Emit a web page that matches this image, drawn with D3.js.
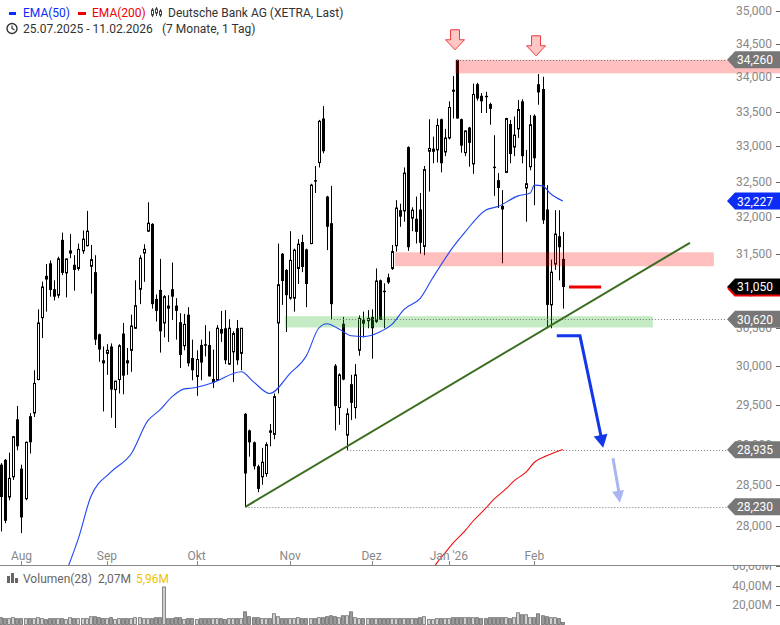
<!DOCTYPE html>
<html>
<head>
<meta charset="utf-8">
<script src="https://cdn.jsdelivr.net/npm/d3@7"></script>
<style>
  body { margin: 0; background: #fff; }
  svg { display: block; font-family: Roboto, "Liberation Sans", Arial, sans-serif; }
</style>
</head>
<body>
<div id="chart"></div>
<script>
// daily candles 25.07.2025 - 11.02.2026, index 0 = first trading day
var opens = [28.75,28.81,28.35,28.60,29.32,28.70,28.33,29.36,29.40,29.83,
30.64,31.20,31.37,31.02,30.94,31.69,31.24,31.51,31.35,31.30,
31.54,31.61,31.33,31.25,30.42,30.08,30.17,30.26,29.70,29.83,
30.43,30.08,30.21,30.50,31.02,31.51,31.81,31.91,30.89,31.01,
30.57,30.80,31.02,30.80,30.58,30.27,30.68,30.11,29.87,30.28,
30.29,30.28,29.80,29.82,30.49,30.50,30.03,30.19,30.50,30.17,
29.39,29.18,29.03,28.73,28.60,28.64,29.18,29.13,30.57,31.50,
31.28,30.90,30.90,31.30,31.66,31.56,31.64,32.52,32.77,33.40,
32.29,31.92,30.01,29.47,30.56,29.12,29.77,29.47,30.21,30.61,
30.60,30.65,30.59,31.14,31.00,31.18,31.30,31.61,32.10,32.09,
32.99,31.99,31.98,32.11,31.60,32.93,32.93,32.95,33.39,32.92,
33.12,33.82,34.26,33.39,32.91,33.27,32.75,33.90,33.73,33.73,
33.61,32.71,32.52,32.16,32.63,33.32,32.99,33.25,33.65,32.41,
32.71,33.44,33.90,33.83,32.11,30.81,31.36,31.74,31.43];
var highs = [28.77,28.82,28.90,29.11,29.49,28.75,29.04,29.40,29.95,30.75,
31.12,31.36,31.41,31.14,31.46,31.79,31.43,31.77,31.48,31.64,
31.82,32.09,31.62,31.48,30.43,30.26,30.29,30.30,29.81,30.29,
30.57,30.24,30.68,31.14,31.48,31.63,32.21,31.92,30.95,31.43,
30.94,30.94,31.38,30.90,30.70,30.69,30.78,30.35,30.21,30.35,
30.54,30.46,30.22,30.54,30.73,30.74,30.62,30.46,30.61,30.50,
29.40,29.19,29.04,28.75,28.96,29.03,29.26,29.65,31.64,31.51,
31.29,31.81,31.57,31.70,31.76,31.57,32.47,32.72,33.38,33.58,
32.30,32.44,30.03,29.91,30.65,29.46,29.89,30.03,30.67,30.72,
30.74,30.75,31.30,31.15,31.10,31.23,31.62,32.24,32.19,32.70,
33.00,32.14,32.29,32.34,32.72,33.39,33.14,33.40,33.40,33.25,
33.65,34.02,34.26,33.40,33.23,33.28,33.91,33.92,33.77,33.79,
33.63,33.16,32.62,32.38,33.41,33.38,33.43,33.67,33.68,32.95,
33.45,33.46,34.05,34.01,32.45,31.42,32.10,32.10,31.80];
var lows = [27.93,28.03,28.31,28.56,28.93,27.91,28.31,28.89,29.35,29.82,
30.37,30.72,30.92,30.87,30.90,31.21,30.91,31.44,31.00,31.27,
31.50,31.60,30.96,30.28,30.06,29.42,29.89,29.34,29.21,29.65,
29.64,29.89,29.93,30.49,30.82,31.12,31.80,30.76,30.59,30.18,
30.38,30.32,30.61,30.35,29.98,30.21,30.00,29.82,29.62,29.82,
30.13,29.87,29.72,29.82,30.32,30.03,30.02,29.80,30.02,29.95,
28.23,28.85,28.69,28.41,28.50,28.60,28.98,29.07,29.65,30.81,
30.45,30.88,30.72,31.09,31.25,30.78,31.63,32.34,32.70,32.90,
31.55,30.62,29.18,29.25,29.82,28.935,29.31,29.33,30.14,30.38,
30.50,30.10,30.57,30.61,30.50,31.09,31.28,31.53,31.87,31.94,
31.54,31.81,31.64,31.50,31.48,32.36,32.76,32.77,32.63,32.86,
33.10,33.40,33.40,32.91,32.86,32.71,32.61,33.66,33.48,33.48,
33.31,32.30,32.13,31.37,32.63,32.76,32.86,33.12,32.76,31.94,
32.66,32.17,33.60,31.91,30.50,30.50,31.28,31.14,30.76];
var closes = [28.35,28.06,28.58,29.10,28.98,28.10,29.03,29.03,29.78,30.57,
31.05,31.15,31.01,30.92,31.43,31.24,31.43,31.54,31.28,31.56,
31.70,31.81,31.42,30.35,30.22,30.04,30.21,29.70,29.81,30.27,
29.88,30.04,30.53,30.80,31.44,31.56,31.92,30.82,30.73,30.46,
30.92,30.76,30.92,30.73,30.15,30.55,30.04,29.95,30.09,30.05,
30.27,29.87,29.83,30.50,30.43,30.08,30.50,30.43,30.08,30.50,
28.64,29.03,28.73,28.45,28.78,29.00,29.15,29.61,31.08,31.13,
30.94,31.41,31.55,31.63,31.32,31.09,32.45,32.50,33.36,32.93,
31.87,30.82,29.49,29.89,29.83,29.39,29.53,29.89,30.63,30.56,
30.63,30.50,31.13,30.61,30.98,31.11,31.53,32.13,32.01,32.62,
31.59,32.10,31.80,31.65,32.67,32.97,32.96,33.30,32.76,33.12,
33.56,33.79,33.40,33.01,33.22,33.05,33.75,33.69,33.65,33.71,
33.54,32.69,32.41,32.11,33.40,32.89,33.16,33.53,32.86,32.47,
33.31,32.83,33.78,31.96,30.81,31.25,31.77,31.59,31.05];
// volume in millions
var volumes = [7,6,6,7,6, 6,6,6,6,7, 6,5,6,6,6, 6,5,7,6,6, 6,6,8,8,7, 6,6,7,5,6,
6,6,6,7,7, 6,6,6,7,7, 38.5,6,6,7,7, 5,6,6,5,6, 6,6,6,6,6, 5,6,6,6,6,
13,8,7,7,6, 6,6,11,8,6, 6,6,6,7,6, 6,6,6,7,7, 8,9,8,7,9, 9,13,7,6,6,
6,6,6,6,6, 6,6,6,6,6, 6,6,6,7,8, 5,5,6,6,6, 6,7,7,7,7, 7,7,7,6,6,
7,7,7,7,7, 6,7,12,10,10, 7,7,11,9,8, 7,7,6,2.07];

// moving averages (candle index, value)
var ema50Idx = [16,19,22,27,32,36,39,42,45,47,52,59,62,66,71,75,78,80,83,86,89,93,96,99,103,106,111,114,119,122,127,130,131,133,135,138];
var ema50Val = [27.45,27.85,28.35,28.66,28.89,29.30,29.44,29.61,29.71,29.72,29.79,29.93,29.80,29.65,29.91,30.14,30.50,30.56,30.49,30.40,30.39,30.45,30.55,30.75,30.90,31.17,31.59,31.80,32.10,32.15,32.30,32.34,32.45,32.44,32.33,32.227];
var ema200Idx = [105,107,109,111,114,116,119,121,124,126,129,131,134,138];
var ema200Val = [27.40,27.55,27.67,27.79,27.94,28.06,28.21,28.32,28.45,28.55,28.66,28.78,28.86,28.94];

var monthIdx = [5, 26, 48, 71, 91, 110, 131];
var monthLabels = ["Aug", "Sep", "Okt", "Nov", "Dez", "Jan '26", "Feb"];
var priceTicks = [28, 28.5, 29, 29.5, 30, 30.5, 31, 31.5, 32, 32.5, 33, 33.5, 34, 34.5, 35];
var volTicks = [20, 40, 60];

// annotations
var resistTop = [34.06, 34.26];
var resistMid = [31.33, 31.52];
var supportZone = [30.51, 30.66];
var levelLines = [34.26, 30.62, 28.935, 28.23];
var levelStart = [112, 81, 85, 60];
var trendFrom = [60, 28.23], trendTo = [169.2, 31.65];
var lastPrice = 31.05, ema50Last = 32.227;
var arrowIdx = [111.5, 131.4], arrowTip = [34.41, 34.32];

var W = 780, H = 625, priceBottom = 565;

var x = d3.scaleLinear().domain([0, 138]).range([1.14, 562.9]);
var y = d3.scaleLog().domain([28, 35]).range([525.7, 10.5]);
var yv = d3.scaleLinear().domain([0, 60]).range([624.5, 566]);

var de = d3.formatLocale({decimal: ",", thousands: ".", grouping: [3], currency: ["", "€"]});
var fmtP = de.format(".3f");
var fmtV = function(v) { return de.format(".2f")(v) + "M"; };

var svg = d3.select("#chart").append("svg")
    .attr("width", W)
    .attr("height", H);

var defs = svg.append("defs");
defs.append("clipPath").attr("id", "clipP")
  .append("rect").attr("x", 0).attr("y", 0).attr("width", W).attr("height", priceBottom);
defs.append("clipPath").attr("id", "clipV")
  .append("rect").attr("x", 0).attr("y", priceBottom + 1).attr("width", W).attr("height", H - priceBottom);

var idx = d3.range(closes.length);
var plot = svg.append("g").attr("clip-path", "url(#clipP)");

// candles
var candles = plot.append("g");
candles.selectAll("line")
  .data(idx)
  .enter()
  .append("line")
    .attr("x1", function(i) { return Math.round(x(i)) + 0.5; })
    .attr("x2", function(i) { return Math.round(x(i)) + 0.5; })
    .attr("y1", function(i) { return y(highs[i]); })
    .attr("y2", function(i) { return y(lows[i]); })
    .attr("stroke", "#000")
    .attr("stroke-width", 1);

candles.selectAll("rect")
  .data(idx)
  .enter()
  .append("rect")
    .attr("x", function(i) { return closes[i] >= opens[i] ? Math.round(x(i)) - 0.5 : Math.round(x(i)) - 1; })
    .attr("y", function(i) { return y(Math.max(opens[i], closes[i])); })
    .attr("width", function(i) { return closes[i] >= opens[i] ? 2 : 3; })
    .attr("height", function(i) { return Math.max(1, y(Math.min(opens[i], closes[i])) - y(Math.max(opens[i], closes[i]))); })
    .attr("fill", function(i) { return closes[i] >= opens[i] ? "#fff" : "#000"; })
    .attr("stroke", function(i) { return closes[i] >= opens[i] ? "#000" : "none"; })
    .attr("stroke-width", 1);

// zones
plot.append("rect")
  .attr("x", x(arrowIdx[0]))
  .attr("y", y(resistTop[1]))
  .attr("width", W - x(arrowIdx[0]))
  .attr("height", y(resistTop[0]) - y(resistTop[1]))
  .attr("fill", "rgba(255,0,0,0.25)");
plot.append("rect")
  .attr("x", x(96.7))
  .attr("y", y(resistMid[1]))
  .attr("width", x(175.1) - x(96.7))
  .attr("height", y(resistMid[0]) - y(resistMid[1]))
  .attr("fill", "rgba(255,0,0,0.25)");
plot.append("rect")
  .attr("x", x(69.7))
  .attr("y", y(supportZone[1]))
  .attr("width", x(160.1) - x(69.7))
  .attr("height", y(supportZone[0]) - y(supportZone[1]))
  .attr("fill", "rgba(40,180,40,0.27)");

// dotted level lines
plot.selectAll("line.level")
  .data(levelLines)
  .enter()
  .append("line")
    .attr("class", "level")
    .attr("x1", function(d, k) { return x(levelStart[k]); })
    .attr("x2", 727)
    .attr("y1", function(d) { return Math.round(y(d)) + 0.5; })
    .attr("y2", function(d) { return Math.round(y(d)) + 0.5; })
    .attr("stroke", "#777")
    .attr("stroke-width", 1)
    .attr("stroke-dasharray", "1,2");

// moving averages
var line50 = d3.line()
  .x(function(d, k) { return x(ema50Idx[k]); })
  .y(function(d) { return y(d); })
  .curve(d3.curveMonotoneX);
plot.append("path")
  .attr("d", line50(ema50Val))
  .attr("fill", "none")
  .attr("stroke", "#1f45f5")
  .attr("stroke-width", 1.1);

var line200 = d3.line()
  .x(function(d, k) { return x(ema200Idx[k]); })
  .y(function(d) { return y(d); })
  .curve(d3.curveMonotoneX);
plot.append("path")
  .attr("d", line200(ema200Val))
  .attr("fill", "none")
  .attr("stroke", "#f01010")
  .attr("stroke-width", 1.1);

// trend line
plot.append("line")
  .attr("x1", x(trendFrom[0])).attr("y1", y(trendFrom[1]))
  .attr("x2", x(trendTo[0])).attr("y2", y(trendTo[1]))
  .attr("stroke", "#3b6d1f")
  .attr("stroke-width", 2);

// last price mark
plot.append("line")
  .attr("x1", x(139.5)).attr("x2", x(147.4))
  .attr("y1", y(lastPrice)).attr("y2", y(lastPrice))
  .attr("stroke", "#ee0000")
  .attr("stroke-width", 3);

// arrows
function arrowHead(g, x1, y1, x2, y2, len, half, color) {
  var dx = x2 - x1, dy = y2 - y1, l = Math.sqrt(dx * dx + dy * dy);
  var ux = dx / l, uy = dy / l;
  var bx = x2 - ux * len, by = y2 - uy * len;
  g.append("path")
    .attr("d", "M" + x2 + "," + y2 + "L" + (bx - uy * half) + "," + (by + ux * half) +
               "L" + (bx + uy * half) + "," + (by - ux * half) + "Z")
    .attr("fill", color);
}

var pts = [[136.5, 30.40], [142.2, 30.40], [147.6, 29.05]];
plot.append("path")
  .attr("d", d3.line().x(function(d) { return x(d[0]); }).y(function(d) { return y(d[1]); })(pts))
  .attr("fill", "none")
  .attr("stroke", "#1236ea")
  .attr("stroke-width", 3);
arrowHead(plot, x(142.2), y(30.40), x(147.9), y(28.96), 13, 7, "#1236ea");

plot.append("line")
  .attr("x1", x(150.3)).attr("y1", y(28.83))
  .attr("x2", x(151.8)).attr("y2", y(28.40))
  .attr("stroke", "#a9b6f2")
  .attr("stroke-width", 3);
arrowHead(plot, x(150.3), y(28.83), x(152.0), y(28.28), 12, 6, "#a9b6f2");

arrowIdx.forEach(function(ai, k) {
  var cx = x(ai), tip = y(arrowTip[k]);
  var p = [[cx - 4.5, tip - 20], [cx + 4.5, tip - 20], [cx + 4.5, tip - 10], [cx + 9.5, tip - 10],
           [cx, tip], [cx - 9.5, tip - 10], [cx - 4.5, tip - 10]];
  svg.append("path")
    .attr("d", "M" + p.join("L") + "Z")
    .attr("fill", "#ffc6c6")
    .attr("stroke", "#ec3b3b")
    .attr("stroke-width", 1);
});

// right price axis
var axisG = svg.append("g");
axisG.selectAll("text")
  .data(priceTicks)
  .enter()
  .append("text")
    .attr("x", 772)
    .attr("y", function(d) { return y(d) + 4; })
    .attr("text-anchor", "end")
    .attr("font-size", 12)
    .attr("fill", "#888")
    .text(fmtP);
axisG.selectAll("line")
  .data(priceTicks)
  .enter()
  .append("line")
    .attr("x1", 776).attr("x2", 780)
    .attr("y1", function(d) { return Math.round(y(d)) + 0.5; })
    .attr("y2", function(d) { return Math.round(y(d)) + 0.5; })
    .attr("stroke", "#666");

// price tags
function tag(v, fill, txt) {
  var yc = y(v);
  var g = svg.append("g");
  g.append("path")
    .attr("d", "M727," + yc + "L735," + (yc - 8.5) + "L780," + (yc - 8.5) + "L780," + (yc + 8.5) + "L735," + (yc + 8.5) + "Z")
    .attr("fill", fill);
  g.append("text")
    .attr("x", 737).attr("y", yc + 4.5)
    .attr("font-size", 12)
    .attr("fill", txt)
    .text(fmtP(v));
  return g;
}
tag(levelLines[0], "#777", "#fff");
tag(levelLines[1], "#777", "#fff");
tag(levelLines[2], "#777", "#fff");
tag(levelLines[3], "#777", "#fff");
tag(ema50Last, "#0b2cf5", "#fff");
var lt = tag(lastPrice, "#000", "#fff");
lt.append("path")
  .attr("d", "M728," + (y(lastPrice) + 1) + "L735," + (y(lastPrice) + 8.5) + "L780," + (y(lastPrice) + 8.5))
  .attr("fill", "none")
  .attr("stroke", "#ee0000")
  .attr("stroke-width", 2);

// x axis
svg.append("line")
  .attr("x1", 0).attr("x2", W)
  .attr("y1", priceBottom + 0.5).attr("y2", priceBottom + 0.5)
  .attr("stroke", "#888");
svg.selectAll("text.month")
  .data(monthIdx)
  .enter()
  .append("text")
    .attr("class", "month")
    .attr("x", function(d) { return x(d); })
    .attr("y", 560)
    .attr("text-anchor", "middle")
    .attr("font-size", 12)
    .attr("fill", "#888")
    .text(function(d, k) { return monthLabels[k]; });
svg.selectAll("line.mtick")
  .data(monthIdx)
  .enter()
  .append("line")
    .attr("class", "mtick")
    .attr("x1", function(d) { return Math.round(x(d)) + 0.5; })
    .attr("x2", function(d) { return Math.round(x(d)) + 0.5; })
    .attr("y1", 561).attr("y2", 565)
    .attr("stroke", "#888");

// volume pane
var vol = svg.append("g").attr("clip-path", "url(#clipV)");
vol.selectAll("rect")
  .data(idx)
  .enter()
  .append("rect")
    .attr("x", function(i) { return Math.round(x(i)) - 1.5; })
    .attr("y", function(i) { return yv(volumes[i]); })
    .attr("width", 3)
    .attr("height", function(i) { return yv(0) - yv(volumes[i]); })
    .attr("fill", function(i) { return closes[i] >= opens[i] ? "#cfcfcf" : "#9a9a9a"; })
    .attr("stroke", "#6f6f6f")
    .attr("stroke-width", 0.8);
vol.selectAll("text")
  .data(volTicks)
  .enter()
  .append("text")
    .attr("x", 772)
    .attr("y", function(d) { return yv(d) + 4; })
    .attr("text-anchor", "end")
    .attr("font-size", 12)
    .attr("fill", "#888")
    .text(fmtV);
vol.selectAll("line")
  .data(volTicks)
  .enter()
  .append("line")
    .attr("x1", 776).attr("x2", 780)
    .attr("y1", function(d) { return Math.round(yv(d)) + 0.5; })
    .attr("y2", function(d) { return Math.round(yv(d)) + 0.5; })
    .attr("stroke", "#666");

// legends
var leg = svg.append("g").attr("font-size", 12);
leg.append("rect").attr("x", 9).attr("y", 12).attr("width", 7).attr("height", 3).attr("fill", "#0b2cf5");
leg.append("text").attr("x", 23).attr("y", 17).attr("fill", "#0b2cf5").text("EMA(50)");
leg.append("rect").attr("x", 78).attr("y", 12).attr("width", 8).attr("height", 3).attr("fill", "#ee0000");
leg.append("text").attr("x", 92).attr("y", 17).attr("fill", "#ee0000").text("EMA(200)");
[[152, 8, 17, 10, 15], [156, 7, 16, 9, 13], [160, 9, 17, 11, 15]].forEach(function(c) {
  leg.append("line").attr("x1", c[0] + 0.5).attr("x2", c[0] + 0.5).attr("y1", c[1]).attr("y2", c[2]).attr("stroke", "#444");
  leg.append("rect").attr("x", c[0] - 0.5).attr("y", c[3]).attr("width", 2).attr("height", c[4] - c[3]).attr("fill", "#fff").attr("stroke", "#444");
});
leg.append("text").attr("x", 168).attr("y", 17).attr("fill", "#333").text("Deutsche Bank AG (XETRA, Last)");
leg.append("circle").attr("cx", 12).attr("cy", 28.5).attr("r", 5).attr("fill", "none").attr("stroke", "#333").attr("stroke-width", 1.4);
leg.append("path").attr("d", "M12,25.5V28.5L14.5,30").attr("fill", "none").attr("stroke", "#333").attr("stroke-width", 1.2);
leg.append("text").attr("x", 23).attr("y", 33).attr("fill", "#333").text("25.07.2025 - 11.02.2026");
leg.append("text").attr("x", 162).attr("y", 33).attr("fill", "#333").text("(7 Monate, 1 Tag)");

var vleg = svg.append("g").attr("font-size", 12);
[[7, 576], [11, 573], [15, 578]].forEach(function(b) {
  vleg.append("rect").attr("x", b[0]).attr("y", b[1]).attr("width", 3).attr("height", 583 - b[1]).attr("fill", "#666");
});
vleg.append("text").attr("x", 23).attr("y", 583).attr("fill", "#666").text("Volumen(28)");
vleg.append("text").attr("x", 98).attr("y", 583).attr("fill", "#666").text(fmtV(volumes[volumes.length - 1]));
vleg.append("text").attr("x", 136).attr("y", 583).attr("fill", "#f2c200").text(fmtV(5.96));
</script>
</body>
</html>
